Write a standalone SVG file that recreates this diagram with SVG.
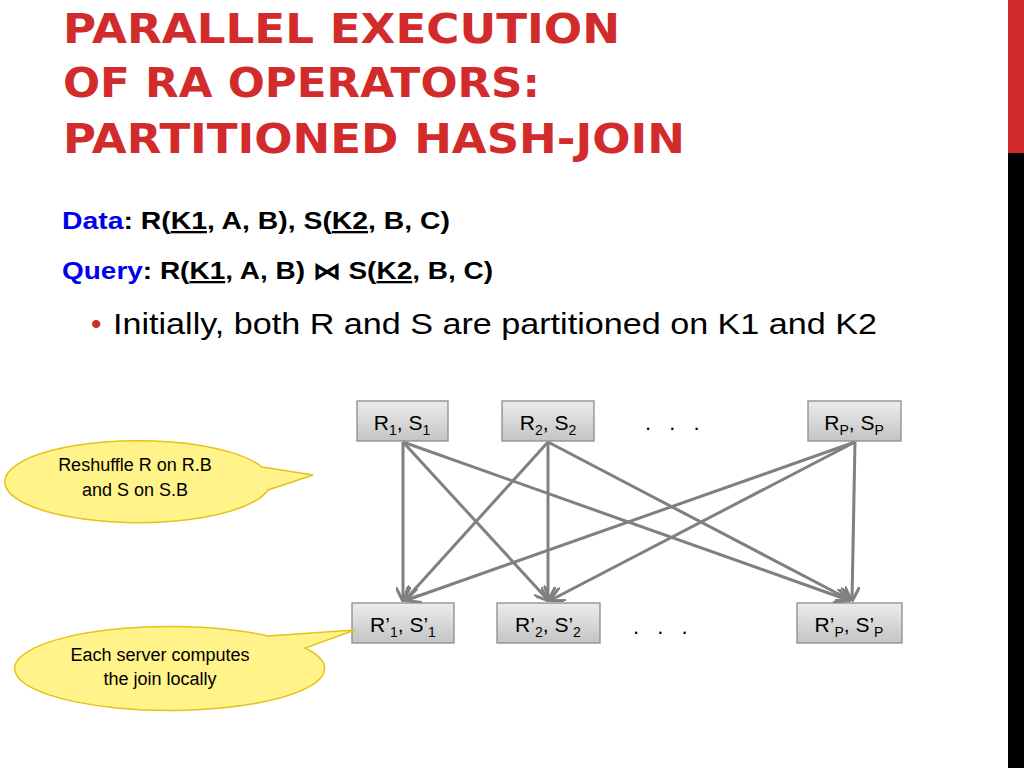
<svg xmlns="http://www.w3.org/2000/svg" width="1024" height="768" viewBox="0 0 1024 768">
<style>
.t{font-family:"DejaVu Sans",Arial,sans-serif;font-weight:bold;font-size:40px;fill:#d22b2b}
.d{font-family:"Liberation Sans",Arial,sans-serif;font-weight:bold;font-size:23px;fill:#000}
.b{fill:#0000ee}
.n rect{fill:url(#g);stroke:#8c8c8c;stroke-width:1.3}
.n text,.c text{font-family:"Liberation Sans",Arial,sans-serif;font-size:21px;fill:#000;text-anchor:middle}
.c text{font-size:18px}
.c path{fill:#fff38a;stroke:#e6c21a;stroke-width:1.5}
.e line{stroke:#808080;stroke-width:3;marker-end:url(#a)}
.dots{font-family:"Liberation Sans",Arial,sans-serif;font-size:22px;letter-spacing:6px}
</style>
<defs>
<linearGradient id="g" x1="0" y1="0" x2="0" y2="1"><stop offset="0" stop-color="#ececec"/><stop offset="1" stop-color="#c4c4c4"/></linearGradient>
<marker id="a" viewBox="0 0 10 10" refX="9" refY="5" markerWidth="5" markerHeight="5" orient="auto" markerUnits="strokeWidth"><path d="M0,0 L10,5 L0,10" fill="none" stroke="#808080" stroke-width="2"/></marker>
</defs>
<rect x="1008" y="0" width="16" height="153" fill="#d22b2b"/>
<rect x="1008" y="153" width="16" height="615" fill="#000"/>
<text class="t" x="63" y="43" textLength="557" lengthAdjust="spacingAndGlyphs">PARALLEL EXECUTION</text>
<text class="t" x="63" y="97" textLength="477" lengthAdjust="spacingAndGlyphs">OF RA OPERATORS:</text>
<text class="t" x="63" y="153" textLength="622" lengthAdjust="spacingAndGlyphs">PARTITIONED HASH-JOIN</text>
<text class="d" x="62" y="229" textLength="388" lengthAdjust="spacingAndGlyphs"><tspan class="b">Data</tspan>: R(<tspan text-decoration="underline">K1</tspan>, A, B), S(<tspan text-decoration="underline">K2</tspan>, B, C)</text>
<text class="d" x="62" y="279" textLength="431" lengthAdjust="spacingAndGlyphs"><tspan class="b">Query</tspan>: R(<tspan text-decoration="underline">K1</tspan>, A, B) ⋈ S(<tspan text-decoration="underline">K2</tspan>, B, C)</text>
<text x="91" y="334" font-family="Liberation Sans,Arial,sans-serif" font-size="30" fill="#d22b2b">•</text>
<text x="113" y="334" font-family="Liberation Sans,Arial,sans-serif" font-size="30" textLength="764" lengthAdjust="spacingAndGlyphs">Initially, both R and S are partitioned on K1 and K2</text>
<g class="e">
<line x1="403" y1="442" x2="403" y2="600"/>
<line x1="403" y1="442" x2="548" y2="600"/>
<line x1="403" y1="442" x2="848" y2="600"/>
<line x1="548" y1="442" x2="405" y2="600"/>
<line x1="548" y1="442" x2="548" y2="600"/>
<line x1="548" y1="442" x2="850" y2="600"/>
<line x1="855" y1="442" x2="407" y2="600"/>
<line x1="855" y1="442" x2="551" y2="600"/>
<line x1="855" y1="442" x2="852" y2="600"/>
</g>
<g id="n1" class="n"><rect x="357" y="401" width="91" height="40"/><text x="402" y="430">R<tspan font-size="14" dy="5">1</tspan><tspan dy="-5">, S</tspan><tspan font-size="14" dy="5">1</tspan></text></g>
<g id="n2" class="n"><rect x="502" y="401" width="92" height="40"/><text x="548" y="430">R<tspan font-size="14" dy="5">2</tspan><tspan dy="-5">, S</tspan><tspan font-size="14" dy="5">2</tspan></text></g>
<text class="dots" x="645" y="430">. . .</text>
<g id="n3" class="n"><rect x="808" y="401" width="93" height="40"/><text x="854" y="430">R<tspan font-size="14" dy="5">P</tspan><tspan dy="-5">, S</tspan><tspan font-size="14" dy="5">P</tspan></text></g>
<g id="m1" class="n"><rect x="352" y="603" width="102" height="40"/><text x="403" y="632">R’<tspan font-size="14" dy="5">1</tspan><tspan dy="-5">, S’</tspan><tspan font-size="14" dy="5">1</tspan></text></g>
<g id="m2" class="n"><rect x="497" y="603" width="103" height="40"/><text x="548" y="632">R’<tspan font-size="14" dy="5">2</tspan><tspan dy="-5">, S’</tspan><tspan font-size="14" dy="5">2</tspan></text></g>
<text class="dots" x="633" y="634">. . .</text>
<g id="m3" class="n"><rect x="797" y="603" width="105" height="40"/><text x="849" y="632">R’<tspan font-size="14" dy="5">P</tspan><tspan dy="-5">, S’</tspan><tspan font-size="14" dy="5">P</tspan></text></g>
<g id="c1" class="c"><path d="M262,467 A133,41 0 1 0 268,490 L313,475 Z"/><text x="135" y="471">Reshuffle R on R.B</text><text x="135" y="496">and S on S.B</text></g>
<g id="c2" class="c"><path d="M268,636 L355,630 L305,648 A155,42 0 1 1 268,636 Z"/><text x="160" y="661">Each server computes</text><text x="160" y="685">the join locally</text></g>
</svg>
